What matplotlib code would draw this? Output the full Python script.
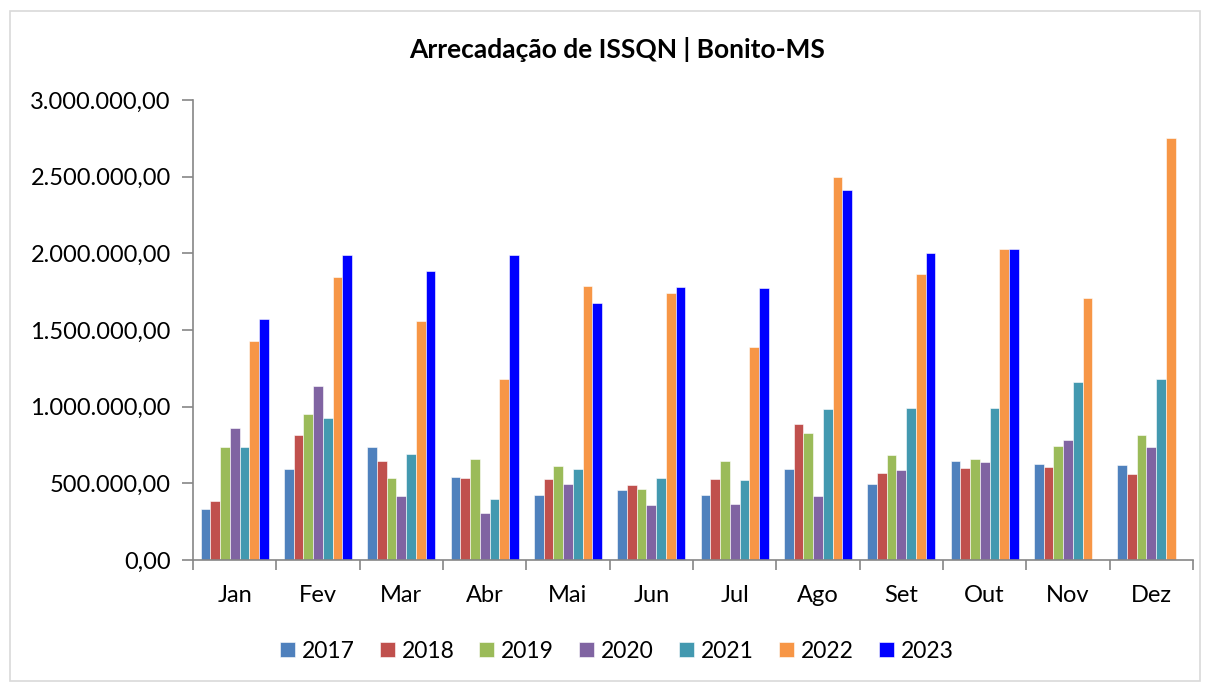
import numpy as np
import matplotlib
matplotlib.use("Agg")
import matplotlib.pyplot as plt
from matplotlib.patches import Rectangle
from matplotlib.ticker import FuncFormatter

plt.rcParams['font.family'] = ['Lato', 'DejaVu Sans']

# Dados (R$)
meses = ['Jan', 'Fev', 'Mar', 'Abr', 'Mai', 'Jun', 'Jul', 'Ago', 'Set', 'Out', 'Nov', 'Dez']
anos = ['2017', '2018', '2019', '2020', '2021', '2022', '2023']

v2017 = [330000, 593000, 737000, 539000, 426000, 457000, 426000, 596000, 498000, 644000, 624000, 617000]
v2018 = [383000, 813000, 644000, 533000, 526000, 487000, 526000, 889000, 569000, 602000, 607000, 561000]
v2019 = [735000, 954000, 533000, 657000, 613000, 461000, 644000, 828000, 683000, 657000, 746000, 813000]
v2020 = [859000, 1135000, 415000, 304000, 494000, 361000, 363000, 417000, 589000, 639000, 785000, 735000]
v2021 = [739000, 924000, 689000, 396000, 593000, 535000, 522000, 983000, 989000, 989000, 1161000, 1180000]
v2022 = [1430000, 1844000, 1557000, 1180000, 1787000, 1741000, 1387000, 2498000, 1863000, 2028000, 1707000, 2752000]
v2023 = [1572000, 1987000, 1883000, 1987000, 1674000, 1780000, 1772000, 2410000, 2004000, 2026000, np.nan, np.nan]

series = [v2017, v2018, v2019, v2020, v2021, v2022, v2023]
cores = ['#4F81BD', '#C0504D', '#9BBB59', '#8064A2', '#4399B0', '#F79646', '#0000FF']

fig = plt.figure(figsize=(12.09, 6.87), dpi=100)
ax = fig.add_axes([193 / 1209, 1 - 560 / 687, 1000 / 1209, 460 / 687])

x = np.arange(len(meses))
largura = 0.117
for i, (vals, cor, ano) in enumerate(zip(series, cores, anos)):
    pos = x + (i - 3) * largura
    ax.bar(pos, vals, width=largura, color=cor, edgecolor='white', linewidth=0.4, label=ano)

ax.set_xlim(-0.5, len(meses) - 0.5)
ax.set_ylim(0, 3000000)
ax.set_yticks(np.arange(0, 3000001, 500000))
ax.yaxis.set_major_formatter(FuncFormatter(
    lambda v, p: f"{v:,.2f}".replace(',', 'X').replace('.', ',').replace('X', '.')))

ax.set_xticks(np.arange(-0.5, len(meses), 1))
ax.set_xticklabels([])
ax.set_xticks(x, minor=True)
ax.set_xticklabels(meses, minor=True)
ax.tick_params(axis='x', which='major', length=7, color='#868686', width=1.2)
ax.tick_params(axis='x', which='minor', length=0, pad=18, labelsize=17)
ax.tick_params(axis='y', length=8, color='#868686', width=1.2, labelsize=17, pad=8)

for s in ['top', 'right']:
    ax.spines[s].set_visible(False)
for s in ['left', 'bottom']:
    ax.spines[s].set_color('#868686')
    ax.spines[s].set_linewidth(1.2)

fig.text(0.51, 1 - 50 / 687, 'Arrecadação de ISSQN | Bonito-MS', ha='center', va='center',
         fontsize=19, fontweight='bold')

fig.legend(loc='center', bbox_to_anchor=(0.51, 1 - 651 / 687), ncol=7, frameon=False,
           fontsize=16.5, handlelength=0.65, handleheight=0.65, handletextpad=0.3, columnspacing=1.1)

fig.patches.append(Rectangle((10 / 1209, 1 - 681 / 687), 1190 / 1209, 670 / 687,
                             transform=fig.transFigure, fill=False, edgecolor='#D9D9D9', linewidth=1.2))

fig.savefig('out.png', dpi=100)
